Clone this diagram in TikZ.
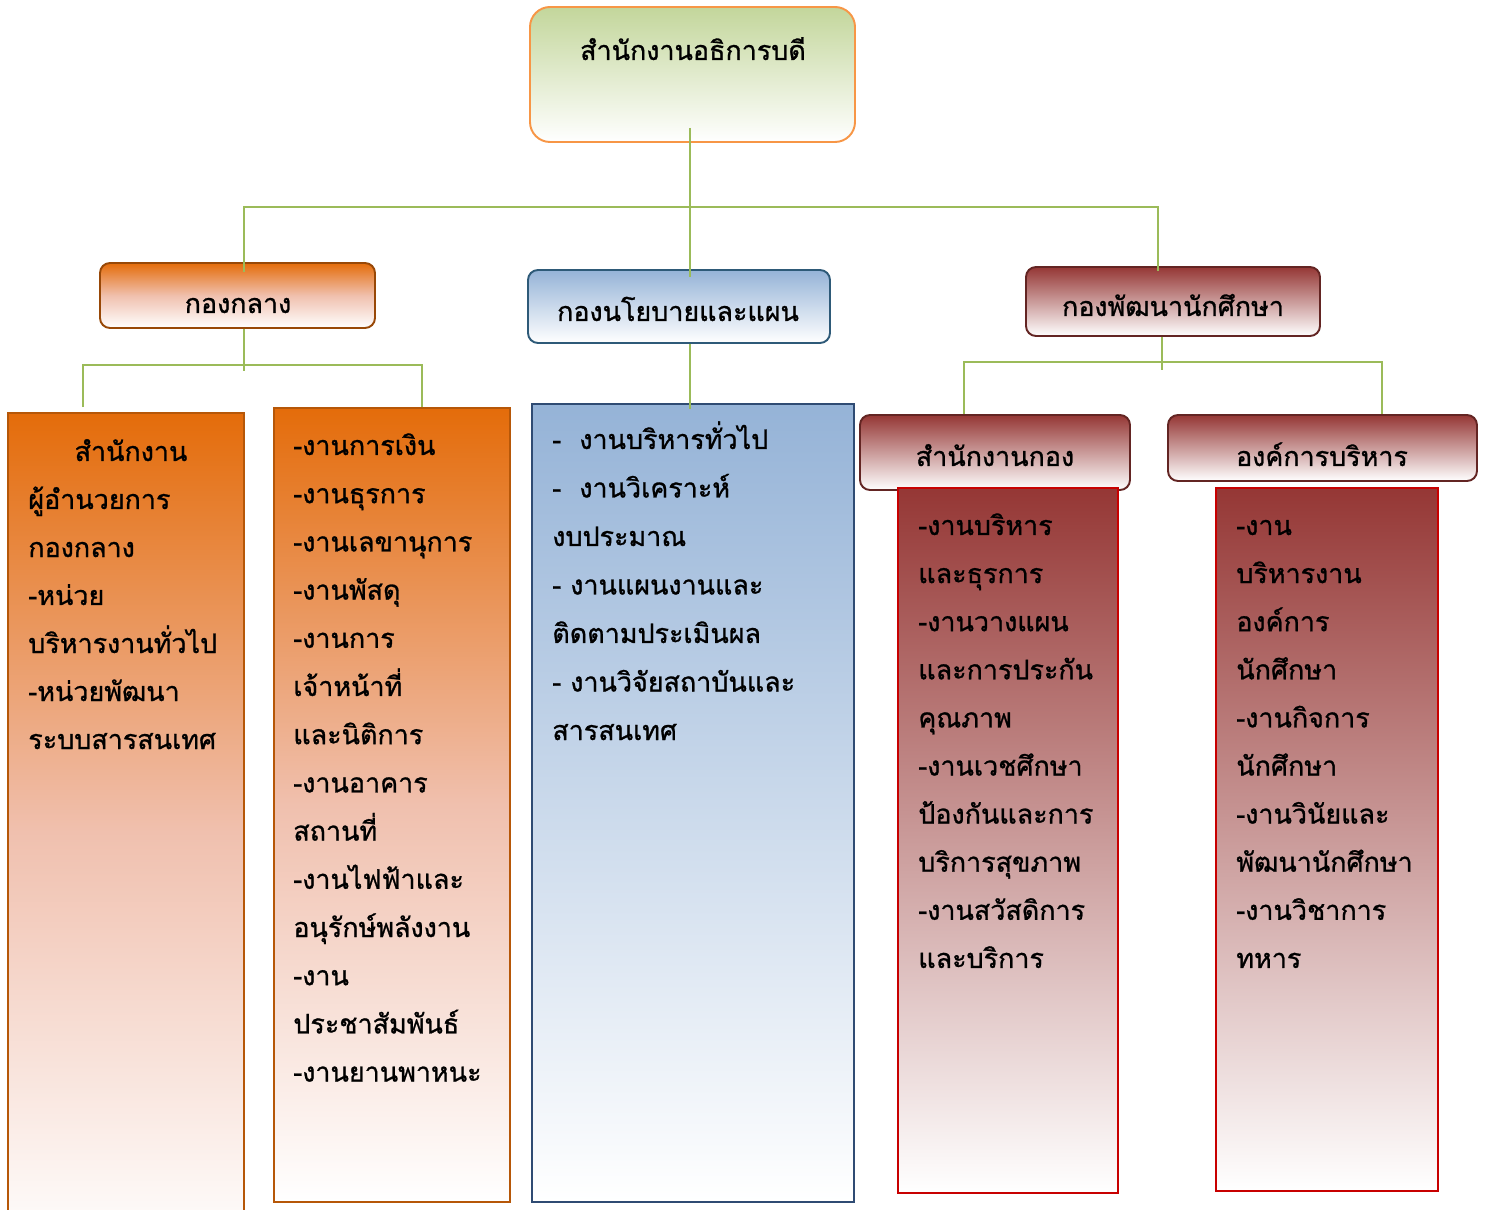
\documentclass[tikz,border=0pt]{standalone}
\usepackage{fontspec}
\newfontfamily\thai[Script=Thai,FakeBold=1]{Loma}
\definecolor{linkGreen}{HTML}{9BBB59}
\definecolor{topLine}{HTML}{F79646}
\definecolor{topFill}{HTML}{C3D69B}
\definecolor{kkLine}{HTML}{984807}
\definecolor{kkFill}{HTML}{E46C0A}
\definecolor{kkMid}{HTML}{F0C0AE}
\definecolor{colLine}{HTML}{B65708}
\definecolor{polLine}{HTML}{2E5A78}
\definecolor{polFill}{HTML}{95B3D7}
\definecolor{blueLine}{HTML}{2F4B73}
\definecolor{devLine}{HTML}{632523}
\definecolor{devFill}{HTML}{953735}
\definecolor{redLine}{HTML}{C80000}

\begin{document}
\begin{tikzpicture}[x=0.2mm, y=-0.2mm,
  every node/.style={font=\thai\fontsize{15.3}{19}\selectfont},
  link/.style={draw=linkGreen, line width=1pt},
  box/.style={draw, line width=1.1pt, inner sep=0pt, bottom color=white},
  hbox/.style={box, rounded corners=2mm},
  kkcol/.style={box, draw=colLine, top color=kkFill, bottom color=white, middle color=kkMid},
  txt/.style={anchor=base west, inner sep=0pt},
  htxt/.style={anchor=base, inner sep=0pt}]
  \useasboundingbox (0,0) rectangle (1485,1210);

  \node[hbox, draw=topLine, top color=topFill, rounded corners=4mm, minimum width=65mm, minimum height=27mm] (top) at (692.5,74.5) {};
  \node[hbox, draw=kkLine, top color=kkFill, bottom color=white, middle color=kkMid, minimum width=55mm, minimum height=13mm] (kk) at (237.5,295.5) {};
  \node[hbox, draw=polLine, top color=polFill, minimum width=60.4mm, minimum height=14.6mm] (pol) at (679,306.5) {};
  \node[hbox, draw=devLine, top color=devFill, minimum width=58.8mm, minimum height=13.8mm] (dev) at (1173,301.5) {};
  \node[hbox, draw=devLine, top color=devFill, minimum width=54mm, minimum height=15mm] (sek) at (995,452.5) {};
  \node[hbox, draw=devLine, top color=devFill, minimum width=61.8mm, minimum height=13.2mm] (org) at (1322.5,448) {};

  \node[kkcol, minimum width=47.2mm, minimum height=167.4mm] (colA) at (126,831.5) {};
  \node[kkcol, minimum width=47.2mm, minimum height=158.8mm] (colB) at (392,805) {};
  \node[box, draw=blueLine, top color=polFill, minimum width=64.4mm, minimum height=159.6mm] (colC) at (693,803) {};
  \node[box, draw=redLine, top color=devFill, minimum width=44mm, minimum height=141mm] (colD) at (1008,840.5) {};
  \node[box, draw=redLine, top color=devFill, minimum width=44.4mm, minimum height=140.6mm] (colE) at (1327,839.5) {};

  \node[htxt] (top-t) at (693,60) {สำนักงานอธิการบดี};
  \node[htxt] (kk-t) at (238,313) {กองกลาง};
  \node[htxt] (pol-t) at (678,321) {กองนโยบายและแผน};
  \node[htxt] (dev-t) at (1173,316) {กองพัฒนานักศึกษา};
  \node[htxt] (sek-t) at (995,466) {สำนักงานกอง};
  \node[htxt] (org-t) at (1322,466) {องค์การบริหาร};

  \node[htxt] (a-0) at (131,461) {สำนักงาน};
  \foreach \t [count=\i] in {ผู้อำนวยการ,กองกลาง,-หน่วย,บริหารงานทั่วไป,-หน่วยพัฒนา,ระบบสารสนเทศ}
    \node[txt] (a-\i) at (28,461+48*\i) {\t};
  \foreach \t [count=\i from 0] in {-งานการเงิน,-งานธุรการ,-งานเลขานุการ,-งานพัสดุ,-งานการ,เจ้าหน้าที่,และนิติการ,-งานอาคาร,สถานที่,-งานไฟฟ้าและ,อนุรักษ์พลังงาน,-งาน,ประชาสัมพันธ์,-งานยานพาหนะ}
    \node[txt] (b-\i) at (293,455+48.2*\i) {\t};
  \foreach \t [count=\i from 0] in {-\ \ งานบริหารทั่วไป,-\ \ งานวิเคราะห์,งบประมาณ,- งานแผนงานและ,ติดตามประเมินผล,- งานวิจัยสถาบันและ,สารสนเทศ}
    \node[txt] (c-\i) at (552,449+48.5*\i) {\t};
  \foreach \t [count=\i from 0] in {-งานบริหาร,และธุรการ,-งานวางแผน,และการประกัน,คุณภาพ,-งานเวชศึกษา,ป้องกันและการ,บริการสุขภาพ,-งานสวัสดิการ,และบริการ}
    \node[txt] (d-\i) at (918,535+48.1*\i) {\t};
  \foreach \t [count=\i from 0] in {-งาน,บริหารงาน,องค์การ,นักศึกษา,-งานกิจการ,นักศึกษา,-งานวินัยและ,พัฒนานักศึกษา,-งานวิชาการ,ทหาร}
    \node[txt] (e-\i) at (1236,535+48.1*\i) {\t};

  \coordinate (bus) at (0,207);
  \coordinate (bus2) at (0,365);
  \coordinate (bus3) at (0,362);
  \coordinate (topS) at ([xshift=-0.5mm]top.south);
  \coordinate (kkN) at ([xshift=1.3mm]kk.north);
  \coordinate (devN) at ([xshift=-3mm]dev.north);
  \coordinate (devS) at ([xshift=-2.2mm]dev.south);
  \coordinate (aN) at ([xshift=-8.6mm]colA.north);
  \coordinate (bN) at ([xshift=6mm]colB.north);
  \coordinate (sekN) at ([xshift=-6.2mm]sek.north);
  \coordinate (orgN) at ([xshift=11.9mm]org.north);

  \draw[link] (topS) ++(0,-15) -- (topS |- pol.north) -- ++(0,8);
  \draw[link] (kkN) ++(0,10) -- (kkN |- bus) -- (devN |- bus) -- (devN) -- ++(0,5);
  \draw[link] (topS |- pol.south) -- (topS |- colC.north) -- ++(0,6);
  \draw[link] (kkN |- kk.south) -- ++(0,42);
  \draw[link] (aN) ++(0,-5) -- (aN |- bus2) -- (bN |- bus2) -- (bN);
  \draw[link] (devS) -- ++(0,33);
  \draw[link] (sekN) -- (sekN |- bus3) -- (orgN |- bus3) -- (orgN);
\end{tikzpicture}
\end{document}
